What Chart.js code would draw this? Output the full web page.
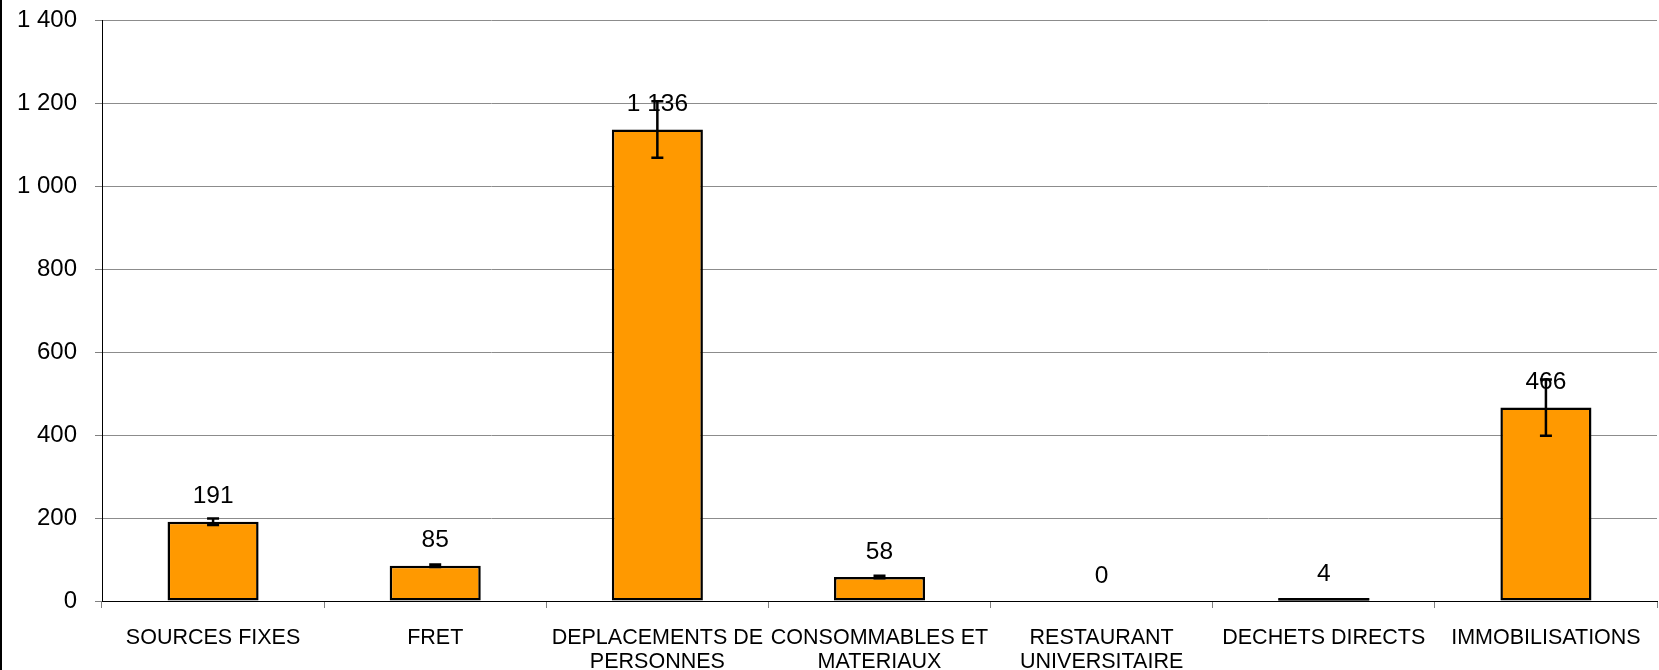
<!DOCTYPE html>
<html>
<head>
<meta charset="utf-8">
<script src="https://cdn.jsdelivr.net/npm/chart.js@4.4.1/dist/chart.umd.min.js"></script>
<style>
  html, body { margin: 0; padding: 0; background: #fff; }
  #wrap { width: 1657px; height: 670px; border-left: 2px solid #000; }
</style>
</head>
<body>
<div id="wrap"><canvas id="bilan" width="1657" height="670"></canvas></div>
<script>
// postes d'émission
const categories = [
  'SOURCES FIXES',
  'FRET',
  ['DEPLACEMENTS DE', 'PERSONNES'],
  ['CONSOMMABLES ET', 'MATERIAUX'],
  ['RESTAURANT', 'UNIVERSITAIRE'],
  'DECHETS DIRECTS',
  'IMMOBILISATIONS'
];
const values = [191, 85, 1136, 58, 0, 4, 466];
const errors = [8, 3, 68, 3, 0, 0, 68];
const yTicks = [0, 200, 400, 600, 800, 1000, 1200, 1400];

function fmt(v) {
  return String(v).replace(/\B(?=(\d{3})+(?!\d))/g, ' ');
}

Chart.defaults.font.family = '"Liberation Sans", Arial, sans-serif';
Chart.defaults.color = '#000';

// étiquettes de valeur + barres d'erreur
const overlay = {
  id: 'overlay',
  afterDatasetsDraw(chart) {
    const ctx = chart.ctx;
    const y = chart.scales.y;
    const bars = chart.getDatasetMeta(0).data;
    ctx.save();
    ctx.font = '24.5px "Liberation Sans", Arial, sans-serif';
    ctx.fillStyle = '#000';
    ctx.textAlign = 'center';
    ctx.textBaseline = 'middle';
    bars.forEach((bar, i) => {
      ctx.fillText(fmt(values[i]), bar.x, y.getPixelForValue(values[i]) - 25);
    });
    ctx.strokeStyle = '#000';
    ctx.lineWidth = 2.5;
    bars.forEach((bar, i) => {
      if (!errors[i]) return;
      const top = y.getPixelForValue(values[i] + errors[i]);
      const bot = y.getPixelForValue(values[i] - errors[i]);
      ctx.beginPath();
      ctx.moveTo(bar.x, top); ctx.lineTo(bar.x, bot);
      ctx.moveTo(bar.x - 6, top); ctx.lineTo(bar.x + 6, top);
      ctx.moveTo(bar.x - 6, bot); ctx.lineTo(bar.x + 6, bot);
      ctx.stroke();
    });
    // très petites barres : trait noir comme dans l'original
    bars.forEach((bar, i) => {
      if (values[i] > 0 && Math.abs(bar.base - bar.y) < 5) {
        ctx.beginPath();
        ctx.moveTo(bar.x - bar.width / 2, bar.y);
        ctx.lineTo(bar.x + bar.width / 2, bar.y);
        ctx.stroke();
      }
    });
    ctx.restore();
  }
};

new Chart(document.getElementById('bilan'), {
  type: 'bar',
  data: {
    labels: categories,
    datasets: [{
      data: values,
      backgroundColor: '#FF9900',
      borderColor: '#000',
      borderWidth: 2.5,
      borderSkipped: false,
      barPercentage: 0.41,
      categoryPercentage: 1
    }]
  },
  options: {
    responsive: false,
    animation: false,
    layout: { padding: { top: 20, right: 2, left: 0, bottom: 0 } },
    plugins: { legend: { display: false }, tooltip: { enabled: false } },
    scales: {
      x: {
        afterFit(s) { s.height = 69; },
        grid: { drawOnChartArea: false, tickLength: 7, tickColor: '#808080', offset: true },
        border: { color: '#000', width: 1 },
        ticks: { font: { size: 21.5, lineHeight: 1.12 }, padding: 18, maxRotation: 0, autoSkip: false }
      },
      y: {
        min: 0,
        max: 1400,
        afterFit(s) { s.width = 100; s.paddingTop = 0; s.paddingBottom = 0; },
        afterBuildTicks(s) { s.ticks = yTicks.map(v => ({ value: v })); },
        grid: { color: '#8c8c8c', tickLength: 7, tickColor: '#808080' },
        border: { color: '#000', width: 1 },
        ticks: { font: { size: 24 }, padding: 18, callback: v => fmt(v) }
      }
    }
  },
  plugins: [overlay]
});
</script>
</body>
</html>
